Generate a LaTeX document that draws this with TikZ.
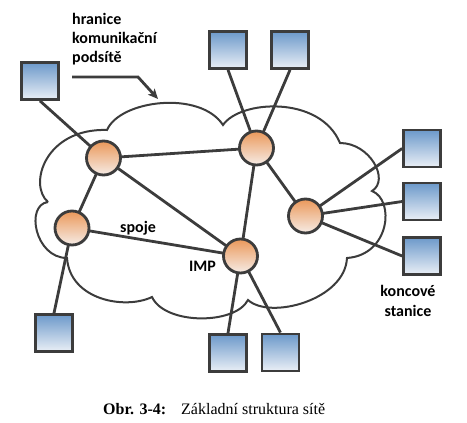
\documentclass[tikz,border=0pt]{standalone}
\usepackage{fontspec}
\setmainfont{Liberation Serif}
\newfontfamily\lblfont{Carlito}
\usetikzlibrary{arrows.meta,backgrounds,shadows}
\definecolor{edgec}{HTML}{3C3C3C}
\definecolor{sqtop}{HTML}{6C99CA}
\definecolor{sqbot}{HTML}{EAEFF6}
\definecolor{cirtop}{HTML}{EA985A}
\definecolor{cirbot}{HTML}{F6ECE6}
\tikzset{
  station/.style={draw=edgec, line width=2.8pt, minimum size=37pt, inner sep=0pt,
    top color=sqtop, bottom color=sqbot,
    drop shadow={shadow xshift=1.2pt, shadow yshift=-1.2pt, opacity=0.25, fill=gray}},
  imp/.style={circle, draw=edgec, line width=2.8pt, minimum size=34pt, inner sep=0pt,
    top color=cirtop, bottom color=cirbot,
    drop shadow={shadow xshift=1.2pt, shadow yshift=-1.2pt, opacity=0.25, fill=gray}},
  link/.style={draw=edgec, line width=2.8pt},
  cloudline/.style={draw=edgec, line width=2pt},
  lbl/.style={font=\lblfont\bfseries\fontsize{16}{19}\selectfont, inner sep=0pt, text=black},
  captxt/.style={font=\fontsize{16}{19}\selectfont, inner sep=0pt, text=black}
}
\begin{document}
\begin{tikzpicture}[x=1pt,y=-1pt]
\useasboundingbox (0,0) rectangle (467,423);
% cloud
\draw[cloudline] (48,202) .. controls (28,185) and (45,128) .. (107,130)
  .. controls (120,100) and (200,90) .. (223,125)
  .. controls (240,100) and (320,95) .. (340,143)
  .. controls (370,143) and (390,180) .. (372,191)
  .. controls (395,200) and (390,255) .. (347,258)
  .. controls (345,300) and (270,320) .. (248,300)
  .. controls (235,325) and (165,325) .. (152,297)
  .. controls (125,310) and (70,300) .. (67,258)
  .. controls (35,258) and (25,205) .. (48,202);
% IMP nodes
\node[imp] (A) at (103.5,158) {};
\node[imp] (B) at (256.5,148) {};
\node[imp] (C) at (305.5,216) {};
\node[imp] (D) at (240.5,256) {};
\node[imp] (E) at (72,228) {};
% stations
\node[station] (S1) at (40,81) {};
\node[station] (S2) at (228,50) {};
\node[station] (S3) at (290,50) {};
\node[station] (S4) at (422,148.5) {};
\node[station] (S5) at (422,201.5) {};
\node[station] (S6) at (422,256) {};
\node[station] (S7) at (54,333) {};
\node[station] (S8) at (228,353) {};
\node[station] (S9) at (280.5,352.5) {};
\begin{scope}[on background layer]
\draw[link] (S1.south) -- (A.center);
\draw[link] (S2.south) -- (B.center);
\draw[link] (S3.south) -- (B.center);
\draw[link] (S4.west) -- (C.center);
\draw[link] (S5.west) -- (C.center);
\draw[link] (S6.west) -- (C.center);
\draw[link] (S7.north) -- (E.center);
\draw[link] (S8.north) -- (D.center);
\draw[link] (S9.north) -- (D.center);
\draw[link] (A.center) -- (B.center);
\draw[link] (A.center) -- (E.center);
\draw[link] (A.center) -- (D.center);
\draw[link] (E.center) -- (D.center);
\draw[link] (B.center) -- (D.center);
\draw[link] (B.center) -- (C.center);
\end{scope}
% labels
\node[lbl, anchor=base west] (l1) at (72,24) {hranice};
\node[lbl, anchor=base west] (l2) at (72,43.5) {komunikační};
\node[lbl, anchor=base west] (l3) at (72,63) {podsítě};
\coordinate (arrs) at (72,77);
\coordinate (arrk) at (138,77);
\coordinate (arrt) at (158,99);
\draw[link, line join=miter, -{Stealth[length=10pt,width=9pt,inset=2.5pt]}] (arrs) -- (arrk) -- (arrt);
\node[lbl, anchor=base west] (spoje) at (120,232.5) {spoje};
\node[lbl, anchor=base west] (imp) at (189,271.5) {IMP};
\node[lbl, anchor=base] (k1) at (408,296.5) {koncové};
\node[lbl, anchor=base] (k2) at (408,316) {stanice};
% caption
\node[captxt, anchor=base west] (c1) at (103,414.5) {\textbf{Obr. 3-4:}};
\node[captxt, anchor=base west] (c2) at (181,414.5) {Základní struktura sítě};
\end{tikzpicture}
\end{document}
